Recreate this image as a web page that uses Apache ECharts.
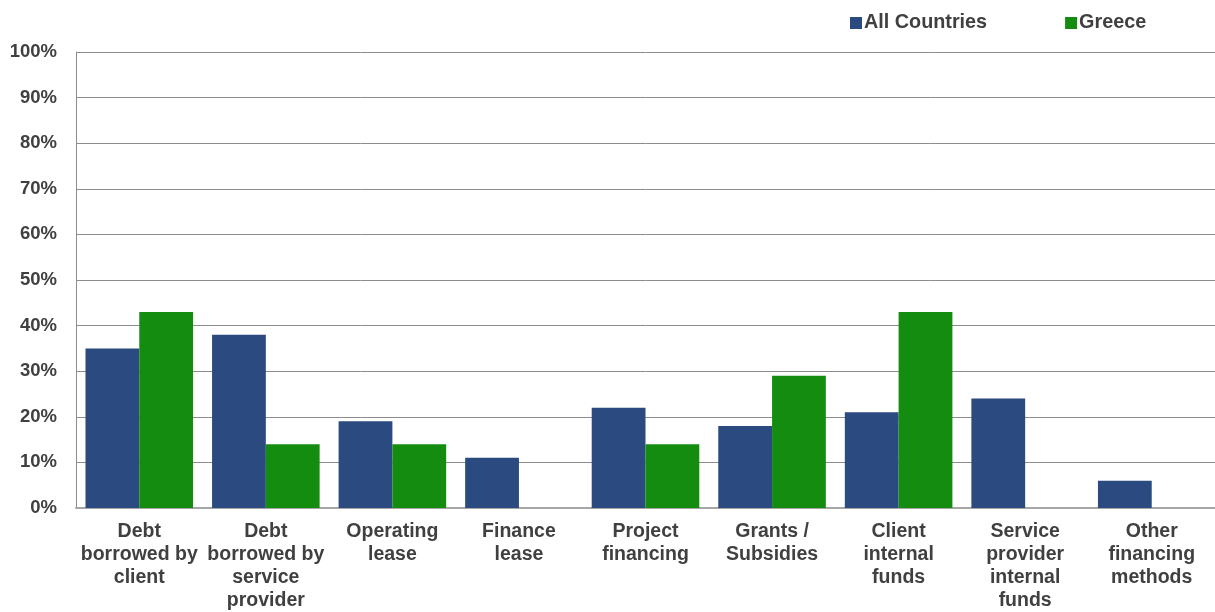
<!DOCTYPE html>
<html>
<head>
<meta charset="utf-8">
<script src="https://cdn.jsdelivr.net/npm/echarts@6/dist/echarts.min.js"></script>
<style>
  html, body { margin: 0; padding: 0; background: #ffffff; }
  #chart { width: 1215px; height: 612px; }
</style>
</head>
<body>
<div id="chart"></div>
<script>
// Financing methods used, share of respondents
const categories = [
  'Debt\nborrowed by\nclient',
  'Debt\nborrowed by\nservice\nprovider',
  'Operating\nlease',
  'Finance\nlease',
  'Project\nfinancing',
  'Grants /\nSubsidies',
  'Client\ninternal\nfunds',
  'Service\nprovider\ninternal\nfunds',
  'Other\nfinancing\nmethods'
];
const allCountries = [35, 38, 19, 11, 22, 18, 21, 24, 6];
const greece = [43, 14, 14, 0, 14, 29, 43, 0, 0];
const seriesNames = ['All Countries', 'Greece'];

const font = 'Liberation Sans, Arial, sans-serif';
const textColor = '#404040';

const chart = echarts.init(document.getElementById('chart'));
chart.setOption({
  animation: false,
  backgroundColor: '#ffffff',
  legend: {
    data: seriesNames,
    top: 8,
    left: 845,
    itemWidth: 12,
    itemHeight: 12,
    itemGap: 78,
    icon: 'rect',
    textStyle: { fontFamily: font, fontWeight: 'bold', fontSize: 19.8, color: textColor, padding: [0, 0, 0, -3] }
  },
  grid: { left: 76, right: 0, top: 52, bottom: 104, containLabel: false },
  xAxis: {
    type: 'category',
    data: categories,
    axisLine: { show: true, lineStyle: { color: '#a6a6a6', width: 2 } },
    axisTick: { show: false },
    axisLabel: {
      interval: 0,
      margin: 12,
      fontFamily: font,
      fontWeight: 'bold',
      fontSize: 19.5,
      lineHeight: 23,
      color: textColor,
      align: 'center'
    }
  },
  yAxis: {
    type: 'value',
    min: 0,
    max: 100,
    interval: 10,
    axisLine: { show: true, lineStyle: { color: '#8c8c8c', width: 1 } },
    axisTick: { show: false },
    splitLine: { show: true, lineStyle: { color: '#8c8c8c', width: 1 } },
    axisLabel: {
      margin: 19,
      fontFamily: font,
      fontWeight: 'bold',
      fontSize: 18.5,
      color: textColor,
      formatter: '{value}%'
    }
  },
  series: [
    {
      name: seriesNames[0],
      type: 'bar',
      data: allCountries,
      barGap: '0%',
      barCategoryGap: '15%',
      itemStyle: { color: '#2a4a80' }
    },
    {
      name: seriesNames[1],
      type: 'bar',
      data: greece,
      barGap: '0%',
      barCategoryGap: '15%',
      itemStyle: { color: '#138c10' }
    }
  ]
});
</script>
</body>
</html>
